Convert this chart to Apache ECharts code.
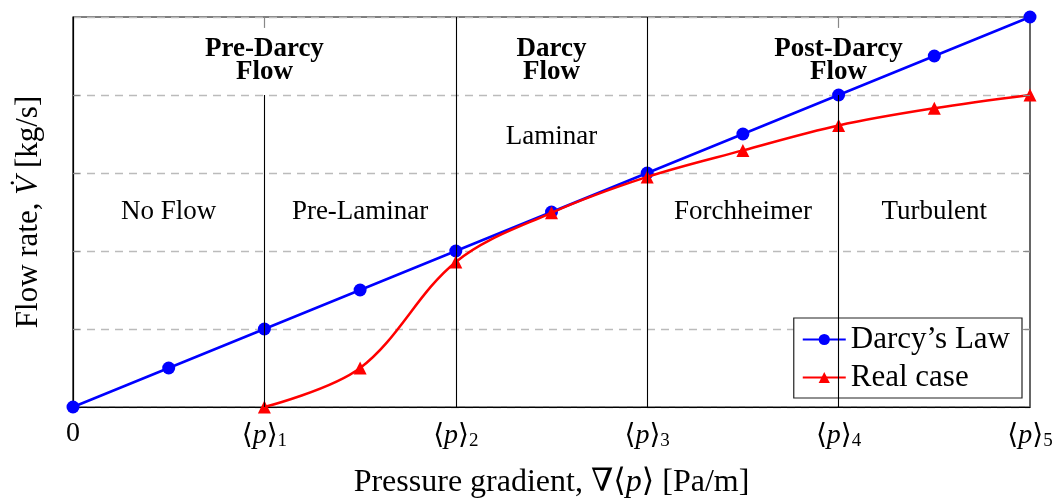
<!DOCTYPE html>
<html>
<head>
<meta charset="utf-8">
<script src="https://cdn.jsdelivr.net/npm/echarts@6/dist/echarts.min.js"></script>
<style>html,body{margin:0;padding:0;background:#fff}#c{width:1056px;height:499px}</style>
</head>
<body>
<div id="c"></div>
<script>
// ---- data ----
const darcyX = [0, 0.5, 1, 1.5, 2, 2.5, 3, 3.5, 4, 4.5, 5];
const darcyY = [0, 0.5, 1, 1.5, 2, 2.5, 3, 3.5, 4, 4.5, 5];
const realX = [1, 1.5, 2, 2.5, 3, 3.5, 4, 4.5, 5];
const realY = [0, 0.5, 1.86, 2.49, 2.95, 3.29, 3.61, 3.83, 4.0];
const tickSubs = ['', '1', '2', '3', '4', '5'];
const regimeNames = ['Pre-Darcy\nFlow', 'Darcy\nFlow', 'Post-Darcy\nFlow'];
const regimeX = [1, 2.5, 4];
const flowNames = ['No Flow', 'Pre-Laminar', 'Laminar', 'Forchheimer', 'Turbulent'];
const flowX = [0.5, 1.5, 2.5, 3.5, 4.5];
const flowY = [2.5, 2.5, 3.5, 2.5, 2.5];
const boundaryX = [1, 2, 3, 4];
const boundaryTop = [4, 5, 5, 4];
const yGridLevels = [1, 2, 3, 4];

const FONT = '"Liberation Serif", "DejaVu Serif", serif';
const chart = echarts.init(document.getElementById('c'), null, {renderer: 'canvas'});

const pair = (a, b) => a.map((v, i) => [v, b[i]]);

const tickStyle = {color: '#888', width: 1.2};
const vLines = boundaryX.map((x, i) => [{coord: [x, 0]}, {coord: [x, boundaryTop[i]]}]);
const topTicks = [1, 4].map(x => [{coord: [x, 5], lineStyle: tickStyle}, {coord: [x, 4.86]}]);
const sideTicks = yGridLevels.flatMap(y => [
  [{coord: [0, y], lineStyle: tickStyle}, {coord: [0.036, y]}],
  [{coord: [5, y], lineStyle: tickStyle}, {coord: [4.964, y]}]
]);

chart.setOption({
  animation: false,
  backgroundColor: '#fff',
  textStyle: {fontFamily: FONT},
  grid: {left: 73, right: 26, top: 17, bottom: 92, outerBoundsMode: 'none', containLabel: false,
         show: true, borderColor: '#000', borderWidth: 1.2, backgroundColor: 'transparent'},
  legend: {
    data: ["Darcy’s Law", 'Real case'],
    orient: 'vertical',
    right: 34, bottom: 101,
    backgroundColor: '#fff',
    borderColor: '#222', borderWidth: 1.2, borderRadius: 0,
    padding: [6, 12, 5, 8],
    itemGap: 7,
    itemWidth: 43, itemHeight: 14,
    textStyle: {fontFamily: FONT, fontSize: 31, color: '#000'}
  },
  xAxis: {
    type: 'value', min: 0, max: 5, interval: 1,
    axisLine: {show: true, lineStyle: {color: '#000', width: 1.2}},
    axisTick: {show: false},
    splitLine: {show: false},
    axisLabel: {
      margin: 13,
      formatter: v => v === 0 ? '{n|0}' : '{n|⟨}{i|p}{n|⟩}{s|' + tickSubs[v] + '}',
      rich: {
        n: {fontFamily: FONT, fontSize: 28, color: '#000'},
        i: {fontFamily: FONT, fontSize: 28, fontStyle: 'italic', color: '#000'},
        s: {fontFamily: FONT, fontSize: 19, color: '#000', padding: [12, 0, 0, 0]}
      }
    },
    name: '{n|Pressure gradient, ∇⟨}{i|p}{n|⟩ [Pa/m]}',
    nameLocation: 'middle', nameGap: 60,
    nameTextStyle: {
      rich: {
        n: {fontFamily: FONT, fontSize: 32, color: '#000'},
        i: {fontFamily: FONT, fontSize: 32, fontStyle: 'italic', color: '#000'}
      }
    }
  },
  yAxis: {
    type: 'value', min: 0, max: 5, interval: 1,
    axisLine: {show: true, lineStyle: {color: '#000', width: 1.2}},
    axisTick: {show: false},
    axisLabel: {show: false},
    splitLine: {show: true, lineStyle: {color: '#bbb', width: 1.3, type: [8, 6]}},
    name: '{n|Flow rate, }{i|V̇}{n| [kg/s]}',
    nameLocation: 'middle', nameGap: 29, nameRotate: 90,
    nameTextStyle: {
      rich: {
        n: {fontFamily: FONT, fontSize: 31, color: '#000'},
        i: {fontFamily: FONT, fontSize: 31, fontStyle: 'italic', color: '#000'}
      }
    }
  },
  series: [
    {
      name: 'annotations', type: 'scatter', z: 1, silent: true,
      symbolSize: 0,
      itemStyle: {opacity: 1},
      data: regimeNames.map((t, i) => ({value: [regimeX[i], 4.44], name: t, label: {fontWeight: 'bold', fontSize: 27, lineHeight: 23}}))
        .concat(flowNames.map((t, i) => ({value: [flowX[i], flowY[i] - (i === 2 ? 0.04 : 0)], name: t}))),
      label: {show: true, position: 'inside', opacity: 1, formatter: p => p.name, fontFamily: FONT, fontSize: 27, color: '#000', lineHeight: 23},
      markLine: {
        silent: true, symbol: 'none', animation: false,
        label: {show: false},
        lineStyle: {color: '#000', width: 1.1, type: 'solid', opacity: 1},
        data: vLines.concat(topTicks, sideTicks)
      }
    },
    {
      name: "Darcy’s Law", type: 'line', z: 3,
      data: pair(darcyX, darcyY),
      symbol: 'circle', symbolSize: 13,
      lineStyle: {color: '#0000ff', width: 2.5},
      itemStyle: {color: '#0000ff'}
    },
    {
      name: 'Real case', type: 'line', z: 4,
      data: pair(realX, realY),
      smooth: 0.35,
      symbol: 'triangle', symbolSize: 13,
      lineStyle: {color: '#ff0000', width: 2.5},
      itemStyle: {color: '#ff0000'}
    }
  ]
});
</script>
</body>
</html>
